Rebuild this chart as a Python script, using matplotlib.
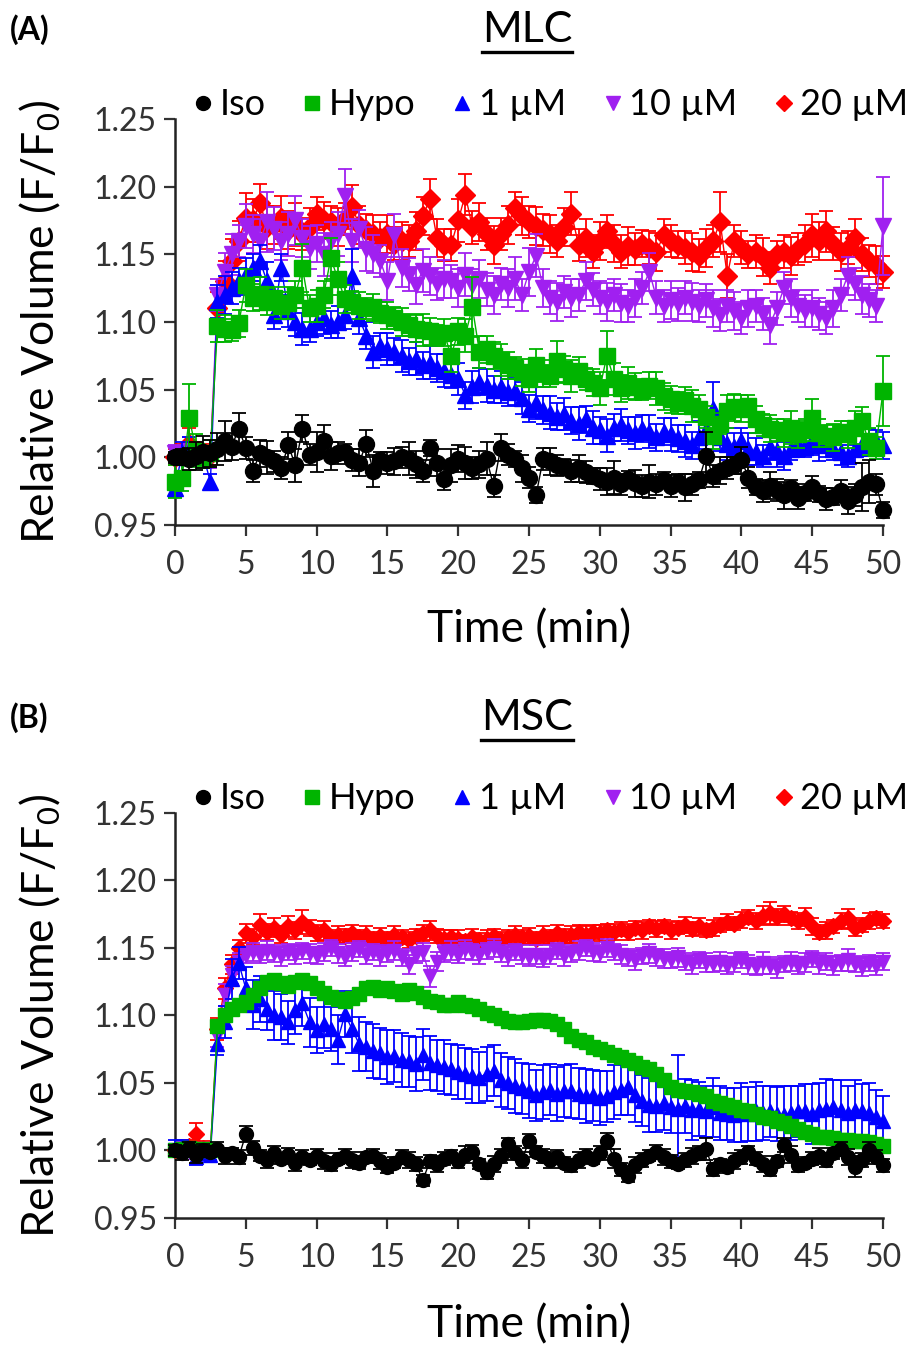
import numpy as np
import matplotlib
matplotlib.use("Agg")
import matplotlib.pyplot as plt
from matplotlib.lines import Line2D

plt.rcParams["font.family"] = ["Lato", "DejaVu Sans"]
plt.rcParams["mathtext.default"] = "regular"

# sampling grid (min)
time_min = np.arange(0, 50.5, 0.5)

series_labels = ["Iso", "Hypo", "1 \u00b5M", "10 \u00b5M", "20 \u00b5M"]
series_colors = ["#000000", "#00b400", "#0000ff", "#a020f0", "#ff0000"]
series_markers = ["o", "s", "^", "v", "D"]

# ---- panel A (MLC) ----
mlc_iso = [
    1.000, 1.000, 0.999, 1.001, 1.004, 1.003, 1.006, 1.012, 1.008, 1.021,
    1.007, 0.990, 1.003, 1.000, 0.997, 0.992, 1.009, 0.994, 1.021, 1.002,
    1.004, 1.012, 1.001, 1.003, 1.004, 0.998, 0.996, 1.010, 0.990, 0.998,
    0.996, 0.997, 1.000, 0.999, 0.995, 0.990, 1.007, 0.996, 0.984, 0.994,
    0.999, 0.996, 0.992, 0.995, 0.999, 0.979, 1.007, 1.002, 0.999, 0.992,
    0.985, 0.972, 0.999, 0.997, 0.994, 0.993, 0.990, 0.992, 0.989, 0.986,
    0.984, 0.982, 0.985, 0.980, 0.984, 0.981, 0.979, 0.982, 0.980, 0.983,
    0.979, 0.982, 0.978, 0.980, 0.983, 1.001, 0.986, 0.990, 0.992, 0.994,
    0.998, 0.985, 0.978, 0.975, 0.979, 0.976, 0.972, 0.977, 0.970, 0.974,
    0.978, 0.973, 0.969, 0.971, 0.975, 0.968, 0.972, 0.978, 0.982, 0.980,
    0.961]
mlc_iso_err = [
    0.004, 0.006, 0.008, 0.010, 0.012, 0.010, 0.012, 0.015, 0.010, 0.012,
    0.008, 0.008, 0.010, 0.012, 0.008, 0.008, 0.010, 0.012, 0.010, 0.008,
    0.015, 0.012, 0.010, 0.008, 0.006, 0.008, 0.010, 0.010, 0.012, 0.006,
    0.008, 0.010, 0.008, 0.012, 0.010, 0.008, 0.006, 0.010, 0.008, 0.012,
    0.010, 0.012, 0.008, 0.010, 0.012, 0.008, 0.010, 0.008, 0.006, 0.010,
    0.008, 0.006, 0.008, 0.010, 0.008, 0.006, 0.008, 0.010, 0.008, 0.006,
    0.008, 0.010, 0.012, 0.008, 0.006, 0.010, 0.008, 0.012, 0.008, 0.006,
    0.008, 0.006, 0.010, 0.008, 0.006, 0.018, 0.008, 0.010, 0.008, 0.006,
    0.010, 0.008, 0.006, 0.008, 0.010, 0.008, 0.010, 0.006, 0.008, 0.006,
    0.008, 0.006, 0.008, 0.006, 0.008, 0.010, 0.008, 0.018, 0.016, 0.008,
    0.006]
mlc_hypo = [
    0.982, 0.985, 1.029, 1.005, 1.000, 1.003, 1.097, 1.095, 1.094, 1.099,
    1.127, 1.118, 1.121, 1.115, 1.118, 1.112, 1.114, 1.120, 1.140, 1.110,
    1.112, 1.120, 1.147, 1.132, 1.117, 1.115, 1.112, 1.110, 1.111, 1.107,
    1.105, 1.103, 1.100, 1.098, 1.095, 1.094, 1.093, 1.090, 1.092, 1.075,
    1.093, 1.090, 1.111, 1.078, 1.080, 1.075, 1.072, 1.068, 1.066, 1.063,
    1.058, 1.068, 1.062, 1.060, 1.071, 1.065, 1.060, 1.064, 1.058, 1.055,
    1.051, 1.075, 1.058, 1.051, 1.055, 1.052, 1.050, 1.053, 1.051, 1.045,
    1.043, 1.040, 1.042, 1.038, 1.036, 1.030, 1.016, 1.025, 1.034, 1.037,
    1.036, 1.038, 1.028, 1.024, 1.021, 1.020, 1.018, 1.022, 1.017, 1.020,
    1.029, 1.018, 1.016, 1.015, 1.019, 1.017, 1.022, 1.027, 1.012, 1.007,
    1.049]
mlc_hypo_err = [
    0.012, 0.010, 0.025, 0.012, 0.008, 0.010, 0.012, 0.010, 0.008, 0.010,
    0.012, 0.010, 0.012, 0.010, 0.008, 0.010, 0.012, 0.010, 0.018, 0.010,
    0.012, 0.010, 0.015, 0.012, 0.010, 0.008, 0.010, 0.008, 0.010, 0.008,
    0.010, 0.008, 0.010, 0.008, 0.010, 0.012, 0.010, 0.008, 0.010, 0.012,
    0.010, 0.012, 0.022, 0.012, 0.010, 0.010, 0.012, 0.010, 0.008, 0.010,
    0.010, 0.012, 0.010, 0.008, 0.015, 0.010, 0.012, 0.010, 0.008, 0.010,
    0.012, 0.018, 0.012, 0.010, 0.012, 0.010, 0.008, 0.010, 0.012, 0.010,
    0.010, 0.008, 0.010, 0.012, 0.010, 0.008, 0.010, 0.008, 0.012, 0.010,
    0.010, 0.008, 0.010, 0.008, 0.010, 0.008, 0.010, 0.012, 0.010, 0.008,
    0.014, 0.010, 0.008, 0.010, 0.008, 0.010, 0.012, 0.010, 0.010, 0.008,
    0.026]
mlc_1um = [
    0.977, 1.003, 1.005, 1.002, 1.001, 0.982, 1.115, 1.120, 1.125, 1.130,
    1.135, 1.140, 1.145, 1.130, 1.105, 1.140, 1.108, 1.100, 1.095, 1.095,
    1.100, 1.103, 1.098, 1.100, 1.105, 1.134, 1.103, 1.090, 1.078, 1.082,
    1.080, 1.078, 1.075, 1.071, 1.073, 1.068, 1.070, 1.066, 1.064, 1.061,
    1.058, 1.046, 1.052, 1.056, 1.053, 1.050, 1.052, 1.048, 1.049, 1.044,
    1.036, 1.040, 1.035, 1.033, 1.030, 1.032, 1.027, 1.025, 1.028, 1.022,
    1.020, 1.016, 1.022, 1.024, 1.020, 1.018, 1.021, 1.019, 1.015, 1.019,
    1.017, 1.014, 1.012, 1.009, 1.015, 1.020, 1.036, 1.015, 1.010, 1.008,
    1.012, 1.006, 1.004, 1.001, 1.008, 1.005, 1.001, 1.006, 1.010, 1.008,
    1.012, 1.009, 1.010, 1.006, 1.004, 1.001, 1.006, 1.009, 1.011, 1.012,
    1.009]
mlc_1um_err = [
    0.006, 0.008, 0.010, 0.008, 0.006, 0.006, 0.012, 0.014, 0.012, 0.010,
    0.012, 0.010, 0.012, 0.014, 0.010, 0.010, 0.012, 0.010, 0.012, 0.010,
    0.010, 0.012, 0.010, 0.012, 0.010, 0.020, 0.012, 0.010, 0.012, 0.010,
    0.012, 0.010, 0.012, 0.010, 0.012, 0.010, 0.012, 0.010, 0.012, 0.010,
    0.012, 0.010, 0.012, 0.010, 0.012, 0.010, 0.012, 0.010, 0.010, 0.012,
    0.010, 0.012, 0.010, 0.012, 0.010, 0.012, 0.010, 0.012, 0.010, 0.012,
    0.010, 0.012, 0.010, 0.012, 0.010, 0.012, 0.010, 0.012, 0.010, 0.010,
    0.012, 0.010, 0.012, 0.010, 0.012, 0.014, 0.020, 0.010, 0.012, 0.010,
    0.010, 0.012, 0.010, 0.008, 0.010, 0.012, 0.010, 0.008, 0.010, 0.008,
    0.010, 0.012, 0.010, 0.008, 0.010, 0.008, 0.010, 0.008, 0.010, 0.008,
    0.010]
mlc_10um = [
    1.003, 0.998, 1.005, 1.002, 1.001, 1.000, 1.120, 1.137, 1.150, 1.160,
    1.171, 1.165, 1.160, 1.174, 1.169, 1.160, 1.165, 1.175, 1.162, 1.155,
    1.158, 1.150, 1.160, 1.165, 1.193, 1.160, 1.169, 1.154, 1.150, 1.145,
    1.130, 1.164, 1.140, 1.135, 1.127, 1.138, 1.134, 1.128, 1.132, 1.130,
    1.125, 1.135, 1.127, 1.132, 1.124, 1.120, 1.128, 1.125, 1.132, 1.120,
    1.137, 1.149, 1.125, 1.118, 1.115, 1.122, 1.118, 1.120, 1.130, 1.124,
    1.118, 1.115, 1.120, 1.114, 1.112, 1.118, 1.125, 1.137, 1.118, 1.112,
    1.116, 1.113, 1.118, 1.115, 1.112, 1.116, 1.110, 1.105, 1.112, 1.108,
    1.103, 1.110, 1.112, 1.106, 1.098, 1.110, 1.125, 1.118, 1.112, 1.108,
    1.110, 1.106, 1.103, 1.110, 1.120, 1.134, 1.128, 1.120, 1.116, 1.112,
    1.171]
mlc_10um_err = [
    0.006, 0.008, 0.010, 0.008, 0.006, 0.008, 0.012, 0.014, 0.015, 0.012,
    0.016, 0.014, 0.016, 0.022, 0.016, 0.014, 0.016, 0.018, 0.014, 0.016,
    0.014, 0.016, 0.014, 0.016, 0.020, 0.016, 0.014, 0.016, 0.014, 0.012,
    0.014, 0.016, 0.014, 0.012, 0.014, 0.016, 0.014, 0.012, 0.014, 0.012,
    0.014, 0.016, 0.012, 0.014, 0.012, 0.014, 0.012, 0.014, 0.016, 0.012,
    0.018, 0.016, 0.014, 0.012, 0.014, 0.012, 0.014, 0.012, 0.014, 0.012,
    0.012, 0.014, 0.012, 0.014, 0.012, 0.014, 0.012, 0.014, 0.012, 0.012,
    0.014, 0.012, 0.012, 0.014, 0.012, 0.012, 0.014, 0.012, 0.012, 0.014,
    0.012, 0.014, 0.012, 0.012, 0.014, 0.012, 0.012, 0.014, 0.012, 0.012,
    0.014, 0.012, 0.012, 0.014, 0.012, 0.014, 0.012, 0.014, 0.012, 0.012,
    0.036]
mlc_20um = [
    1.000, 1.002, 1.010, 1.003, 1.001, 1.002, 1.110, 1.130, 1.145, 1.160,
    1.177, 1.175, 1.188, 1.170, 1.172, 1.177, 1.168, 1.172, 1.165, 1.170,
    1.180, 1.175, 1.174, 1.170, 1.176, 1.185, 1.172, 1.168, 1.165, 1.162,
    1.165, 1.158, 1.160, 1.160, 1.167, 1.178, 1.191, 1.162, 1.157, 1.157,
    1.175, 1.194, 1.170, 1.174, 1.165, 1.157, 1.165, 1.172, 1.184, 1.178,
    1.174, 1.171, 1.168, 1.165, 1.160, 1.170, 1.180, 1.157, 1.162, 1.152,
    1.160, 1.167, 1.158, 1.152, 1.156, 1.154, 1.158, 1.155, 1.152, 1.164,
    1.160, 1.157, 1.155, 1.152, 1.149, 1.155, 1.160, 1.174, 1.134, 1.160,
    1.155, 1.150, 1.152, 1.148, 1.140, 1.150, 1.152, 1.149, 1.154, 1.158,
    1.164, 1.160, 1.167, 1.158, 1.152, 1.155, 1.162, 1.150, 1.145, 1.142,
    1.137]
mlc_20um_err = [
    0.006, 0.008, 0.012, 0.008, 0.006, 0.008, 0.012, 0.015, 0.016, 0.015,
    0.018, 0.016, 0.014, 0.016, 0.014, 0.016, 0.014, 0.016, 0.012, 0.014,
    0.012, 0.014, 0.012, 0.014, 0.012, 0.016, 0.014, 0.012, 0.014, 0.012,
    0.014, 0.012, 0.014, 0.012, 0.014, 0.014, 0.015, 0.014, 0.012, 0.012,
    0.016, 0.015, 0.012, 0.014, 0.012, 0.014, 0.012, 0.014, 0.012, 0.014,
    0.012, 0.014, 0.012, 0.014, 0.012, 0.014, 0.016, 0.012, 0.014, 0.012,
    0.014, 0.012, 0.014, 0.012, 0.014, 0.012, 0.010, 0.012, 0.014, 0.012,
    0.012, 0.010, 0.012, 0.014, 0.012, 0.014, 0.012, 0.022, 0.016, 0.012,
    0.012, 0.010, 0.012, 0.014, 0.012, 0.010, 0.012, 0.014, 0.012, 0.014,
    0.016, 0.014, 0.015, 0.012, 0.014, 0.012, 0.014, 0.012, 0.012, 0.014,
    0.012]

# ---- panel B (MSC) ----
msc_iso = [
    1.000, 0.998, 1.002, 0.997, 1.000, 0.999, 1.001, 0.996, 0.998, 0.995,
    1.012, 1.002, 0.996, 0.993, 0.998, 0.994, 0.997, 0.991, 0.995, 0.993,
    0.996, 0.992, 0.990, 0.994, 0.996, 0.993, 0.991, 0.995, 0.996, 0.992,
    0.988, 0.991, 0.995, 0.993, 0.990, 0.978, 0.992, 0.990, 0.994, 0.996,
    0.992, 0.997, 0.999, 0.990, 0.984, 0.990, 0.996, 1.005, 0.998, 0.993,
    1.007, 0.999, 0.996, 0.993, 0.995, 0.991, 0.989, 0.993, 0.996, 0.994,
    0.998, 1.007, 0.994, 0.986, 0.981, 0.989, 0.993, 0.996, 0.999, 0.995,
    0.992, 0.990, 0.993, 0.996, 0.998, 1.001, 0.986, 0.990, 0.988, 0.992,
    0.995, 0.999, 0.994, 0.990, 0.986, 0.992, 1.004, 0.997, 0.989, 0.991,
    0.994, 0.996, 0.993, 0.998, 1.001, 0.995, 0.988, 0.993, 1.000, 0.995,
    0.989]
msc_iso_err = [
    0.004, 0.005, 0.004, 0.006, 0.005, 0.004, 0.005, 0.006, 0.004, 0.005,
    0.006, 0.005, 0.004, 0.006, 0.005, 0.004, 0.005, 0.006, 0.005, 0.004,
    0.005, 0.006, 0.005, 0.004, 0.005, 0.006, 0.005, 0.004, 0.005, 0.006,
    0.005, 0.004, 0.005, 0.006, 0.005, 0.004, 0.005, 0.006, 0.005, 0.004,
    0.005, 0.006, 0.005, 0.004, 0.005, 0.006, 0.005, 0.004, 0.005, 0.006,
    0.005, 0.004, 0.005, 0.006, 0.005, 0.004, 0.005, 0.006, 0.005, 0.004,
    0.005, 0.006, 0.007, 0.005, 0.004, 0.006, 0.005, 0.004, 0.005, 0.006,
    0.005, 0.004, 0.005, 0.006, 0.005, 0.008, 0.005, 0.004, 0.005, 0.006,
    0.005, 0.004, 0.005, 0.006, 0.005, 0.004, 0.005, 0.006, 0.005, 0.004,
    0.005, 0.006, 0.005, 0.004, 0.005, 0.006, 0.008, 0.005, 0.006, 0.005,
    0.005]
msc_hypo = [
    1.000, 1.001, 1.002, 1.000, 1.001, 1.000, 1.092, 1.100, 1.105, 1.108,
    1.110, 1.115, 1.120, 1.125, 1.126, 1.124, 1.122, 1.125, 1.126, 1.124,
    1.120, 1.117, 1.114, 1.112, 1.111, 1.113, 1.116, 1.120, 1.121, 1.119,
    1.120, 1.118, 1.116, 1.119, 1.117, 1.114, 1.111, 1.110, 1.108, 1.108,
    1.110, 1.108, 1.107, 1.105, 1.102, 1.100, 1.098, 1.096, 1.095, 1.095,
    1.096, 1.097, 1.097, 1.096, 1.094, 1.090, 1.085, 1.082, 1.080, 1.077,
    1.075, 1.073, 1.071, 1.069, 1.067, 1.065, 1.062, 1.060, 1.057, 1.052,
    1.047, 1.045, 1.044, 1.043, 1.042, 1.040, 1.037, 1.035, 1.034, 1.032,
    1.030, 1.029, 1.027, 1.025, 1.024, 1.022, 1.020, 1.018, 1.016, 1.014,
    1.012, 1.010, 1.010, 1.009, 1.008, 1.008, 1.007, 1.007, 1.006, 1.005,
    1.003]
msc_hypo_err = [
    0.004, 0.003, 0.004, 0.003, 0.004, 0.003, 0.004, 0.005, 0.004, 0.003,
    0.004, 0.003, 0.004, 0.003, 0.004, 0.003, 0.004, 0.003, 0.004, 0.003,
    0.004, 0.003, 0.004, 0.003, 0.004, 0.003, 0.004, 0.003, 0.004, 0.003,
    0.004, 0.003, 0.004, 0.003, 0.004, 0.003, 0.004, 0.003, 0.004, 0.003,
    0.004, 0.003, 0.004, 0.003, 0.004, 0.003, 0.004, 0.003, 0.004, 0.003,
    0.004, 0.003, 0.004, 0.003, 0.004, 0.003, 0.004, 0.003, 0.004, 0.003,
    0.004, 0.003, 0.004, 0.003, 0.004, 0.003, 0.004, 0.003, 0.004, 0.003,
    0.004, 0.003, 0.004, 0.003, 0.004, 0.003, 0.004, 0.003, 0.004, 0.003,
    0.004, 0.003, 0.004, 0.003, 0.004, 0.003, 0.004, 0.003, 0.004, 0.003,
    0.004, 0.003, 0.004, 0.003, 0.004, 0.003, 0.004, 0.003, 0.004, 0.003,
    0.004]
msc_1um = [
    1.002, 1.003, 1.000, 0.995, 0.998, 0.997, 1.079, 1.095, 1.127, 1.139,
    1.120, 1.108, 1.112, 1.105, 1.100, 1.099, 1.095, 1.104, 1.109, 1.095,
    1.089, 1.094, 1.090, 1.082, 1.101, 1.090, 1.079, 1.077, 1.074, 1.072,
    1.069, 1.070, 1.067, 1.066, 1.064, 1.071, 1.065, 1.063, 1.062, 1.060,
    1.058, 1.057, 1.055, 1.054, 1.057, 1.059, 1.052, 1.050, 1.048, 1.046,
    1.044, 1.041, 1.043, 1.045, 1.042, 1.044, 1.044, 1.042, 1.040, 1.041,
    1.039, 1.040, 1.043, 1.045, 1.047, 1.041, 1.037, 1.034, 1.033, 1.035,
    1.032, 1.031, 1.033, 1.030, 1.031, 1.029, 1.032, 1.028, 1.027, 1.026,
    1.028, 1.027, 1.029, 1.028, 1.029, 1.027, 1.026, 1.028, 1.029, 1.029,
    1.027, 1.030, 1.031, 1.032, 1.030, 1.028, 1.030, 1.029, 1.028, 1.025,
    1.022]
msc_1um_err = [
    0.006, 0.005, 0.004, 0.006, 0.005, 0.004, 0.008, 0.012, 0.015, 0.012,
    0.016, 0.018, 0.017, 0.016, 0.018, 0.017, 0.016, 0.018, 0.017, 0.018,
    0.017, 0.018, 0.016, 0.018, 0.017, 0.018, 0.020, 0.018, 0.020, 0.019,
    0.020, 0.019, 0.020, 0.019, 0.020, 0.019, 0.020, 0.019, 0.020, 0.019,
    0.020, 0.019, 0.020, 0.019, 0.020, 0.019, 0.020, 0.019, 0.020, 0.019,
    0.020, 0.019, 0.020, 0.019, 0.020, 0.019, 0.020, 0.019, 0.020, 0.019,
    0.020, 0.019, 0.020, 0.019, 0.021, 0.020, 0.019, 0.020, 0.019, 0.020,
    0.019, 0.040, 0.020, 0.022, 0.020, 0.019, 0.022, 0.020, 0.019, 0.020,
    0.022, 0.020, 0.022, 0.020, 0.019, 0.020, 0.022, 0.020, 0.019, 0.020,
    0.022, 0.020, 0.022, 0.020, 0.022, 0.020, 0.022, 0.020, 0.022, 0.020,
    0.018]
msc_10um = [
    1.000, 1.001, 1.000, 0.999, 1.001, 1.000, 1.085, 1.115, 1.130, 1.140,
    1.145, 1.147, 1.145, 1.148, 1.146, 1.144, 1.147, 1.145, 1.148, 1.146,
    1.144, 1.147, 1.150, 1.146, 1.143, 1.147, 1.149, 1.145, 1.147, 1.144,
    1.146, 1.148, 1.143, 1.138, 1.145, 1.147, 1.129, 1.140, 1.146, 1.148,
    1.145, 1.149, 1.147, 1.145, 1.148, 1.150, 1.146, 1.144, 1.147, 1.145,
    1.143, 1.145, 1.142, 1.145, 1.148, 1.144, 1.146, 1.148, 1.150, 1.147,
    1.146, 1.150, 1.147, 1.145, 1.143, 1.141, 1.144, 1.146, 1.143, 1.142,
    1.141, 1.143, 1.140, 1.138, 1.141, 1.139, 1.138, 1.140, 1.137, 1.139,
    1.141, 1.138, 1.136, 1.139, 1.137, 1.135, 1.138, 1.140, 1.137, 1.139,
    1.142, 1.138, 1.140, 1.137, 1.139, 1.141, 1.138, 1.136, 1.139, 1.137,
    1.140]
msc_10um_err = [
    0.004, 0.005, 0.004, 0.005, 0.004, 0.005, 0.008, 0.008, 0.007, 0.006,
    0.006, 0.007, 0.006, 0.007, 0.006, 0.007, 0.006, 0.007, 0.006, 0.007,
    0.006, 0.007, 0.006, 0.007, 0.006, 0.007, 0.006, 0.007, 0.006, 0.007,
    0.006, 0.007, 0.006, 0.007, 0.006, 0.007, 0.008, 0.007, 0.006, 0.007,
    0.006, 0.007, 0.006, 0.007, 0.006, 0.007, 0.006, 0.007, 0.006, 0.007,
    0.006, 0.007, 0.006, 0.007, 0.006, 0.007, 0.006, 0.007, 0.006, 0.007,
    0.006, 0.007, 0.006, 0.007, 0.006, 0.007, 0.006, 0.007, 0.006, 0.007,
    0.006, 0.007, 0.006, 0.007, 0.006, 0.007, 0.006, 0.007, 0.006, 0.007,
    0.006, 0.007, 0.006, 0.008, 0.006, 0.007, 0.006, 0.007, 0.006, 0.007,
    0.006, 0.007, 0.006, 0.007, 0.006, 0.008, 0.006, 0.007, 0.006, 0.007,
    0.006]
msc_20um = [
    1.000, 1.001, 1.003, 1.012, 1.002, 1.001, 1.090, 1.120, 1.138, 1.150,
    1.161, 1.158, 1.167, 1.162, 1.165, 1.160, 1.166, 1.163, 1.169, 1.165,
    1.161, 1.163, 1.158, 1.160, 1.159, 1.161, 1.158, 1.160, 1.157, 1.159,
    1.157, 1.160, 1.158, 1.156, 1.159, 1.161, 1.163, 1.159, 1.157, 1.158,
    1.157, 1.155, 1.158, 1.156, 1.157, 1.159, 1.156, 1.158, 1.160, 1.158,
    1.159, 1.157, 1.160, 1.158, 1.161, 1.159, 1.160, 1.162, 1.160, 1.162,
    1.161, 1.163, 1.162, 1.164, 1.162, 1.165, 1.163, 1.166, 1.164, 1.166,
    1.163, 1.165, 1.167, 1.164, 1.166, 1.163, 1.165, 1.167, 1.169, 1.168,
    1.171, 1.173, 1.170, 1.174, 1.176, 1.173, 1.175, 1.172, 1.170, 1.173,
    1.166, 1.162, 1.163, 1.166, 1.170, 1.172, 1.165, 1.167, 1.170, 1.172,
    1.170]
msc_20um_err = [
    0.004, 0.005, 0.005, 0.008, 0.005, 0.004, 0.008, 0.008, 0.007, 0.006,
    0.007, 0.006, 0.008, 0.006, 0.007, 0.006, 0.008, 0.006, 0.009, 0.006,
    0.006, 0.007, 0.005, 0.006, 0.005, 0.006, 0.005, 0.006, 0.005, 0.006,
    0.005, 0.006, 0.005, 0.006, 0.005, 0.006, 0.007, 0.005, 0.006, 0.005,
    0.006, 0.005, 0.006, 0.005, 0.006, 0.005, 0.006, 0.005, 0.006, 0.005,
    0.006, 0.005, 0.006, 0.005, 0.006, 0.005, 0.006, 0.005, 0.006, 0.005,
    0.006, 0.005, 0.006, 0.005, 0.006, 0.005, 0.006, 0.005, 0.006, 0.005,
    0.006, 0.005, 0.006, 0.005, 0.006, 0.005, 0.006, 0.005, 0.006, 0.005,
    0.006, 0.005, 0.006, 0.007, 0.008, 0.006, 0.006, 0.005, 0.006, 0.007,
    0.006, 0.005, 0.006, 0.005, 0.006, 0.007, 0.006, 0.005, 0.006, 0.005,
    0.005]

panels = [
    ("(A)", "MLC", [mlc_iso, mlc_hypo, mlc_1um, mlc_10um, mlc_20um],
     [mlc_iso_err, mlc_hypo_err, mlc_1um_err, mlc_10um_err, mlc_20um_err]),
    ("(B)", "MSC", [msc_iso, msc_hypo, msc_1um, msc_10um, msc_20um],
     [msc_iso_err, msc_hypo_err, msc_1um_err, msc_10um_err, msc_20um_err]),
]

W, H = 915, 1347
fig = plt.figure(figsize=(W / 100, H / 100), dpi=100)

# pixel boxes: left, top, right, bottom
boxes = [(175, 119, 883, 525), (175, 813, 883, 1218)]
title_y = [30, 718]
xlabel_y = [630, 1325]
marker_size = [11.5, 10]

for (tag, name, means, errs), (l, t, r, b), ty, xy, ms in zip(
        panels, boxes, title_y, xlabel_y, marker_size):
    ax = fig.add_axes([l / W, 1 - b / H, (r - l) / W, (b - t) / H])
    # draw last series first so Iso ends on top
    for i in reversed(range(5)):
        ax.errorbar(time_min, means[i], yerr=errs[i], color=series_colors[i],
                    marker=series_markers[i],
                    markersize=ms if series_markers[i] != "D" else ms * 0.85,
                    linewidth=1.0, elinewidth=1.3, capsize=5, capthick=1.3,
                    clip_on=False, zorder=3 + (5 - i), label=series_labels[i])
    ax.set_xlim(0, 50)
    ax.set_ylim(0.95, 1.25)
    ax.set_xticks(np.arange(0, 51, 5))
    ax.set_yticks([0.95, 1.00, 1.05, 1.10, 1.15, 1.20, 1.25])
    ax.set_yticklabels(["0.95", "1.00", "1.05", "1.10", "1.15", "1.20", "1.25"])
    for s in ("top", "right"):
        ax.spines[s].set_visible(False)
    for s in ("left", "bottom"):
        ax.spines[s].set_linewidth(1.8)
        ax.spines[s].set_color("#222222")
    ax.tick_params(direction="out", length=8, width=1.6, labelsize=23,
                   colors="#333333")
    ax.tick_params(axis="x", pad=10)
    ax.tick_params(axis="y", pad=5)

    handles = [Line2D([], [], linestyle="none", marker=m, color=c,
                      markersize=10 if m != "D" else 8)
               for m, c in zip(series_markers, series_colors)]
    ax.legend(handles, series_labels, loc="center", bbox_to_anchor=(0.53, 1.035),
              ncol=5, frameon=False, fontsize=26, handlelength=0.6,
              handletextpad=0.15, columnspacing=1.0, borderaxespad=0)

    fig.text(10 / W, 1 - ty / H, tag, fontsize=23, fontweight="bold",
             ha="left", va="center")
    tt = fig.text(527 / W, 1 - ty / H, name, fontsize=31, ha="center", va="center")
    fig.canvas.draw()
    bb = tt.get_window_extent()
    uy = (bb.y0 - 3) / H
    fig.add_artist(Line2D([bb.x0 / W, bb.x1 / W], [uy, uy], color="black",
                          linewidth=2.4, transform=fig.transFigure))

    fig.text(40 / W, 1 - (t + b) / 2 / H, "Relative Volume (F/F$_0$)",
             rotation=90, fontsize=32, ha="center", va="center")
    fig.text((l + r) / 2 / W, 1 - xy / H, "Time (min)", fontsize=32,
             ha="center", va="center")

fig.savefig("out.png", dpi=100)
